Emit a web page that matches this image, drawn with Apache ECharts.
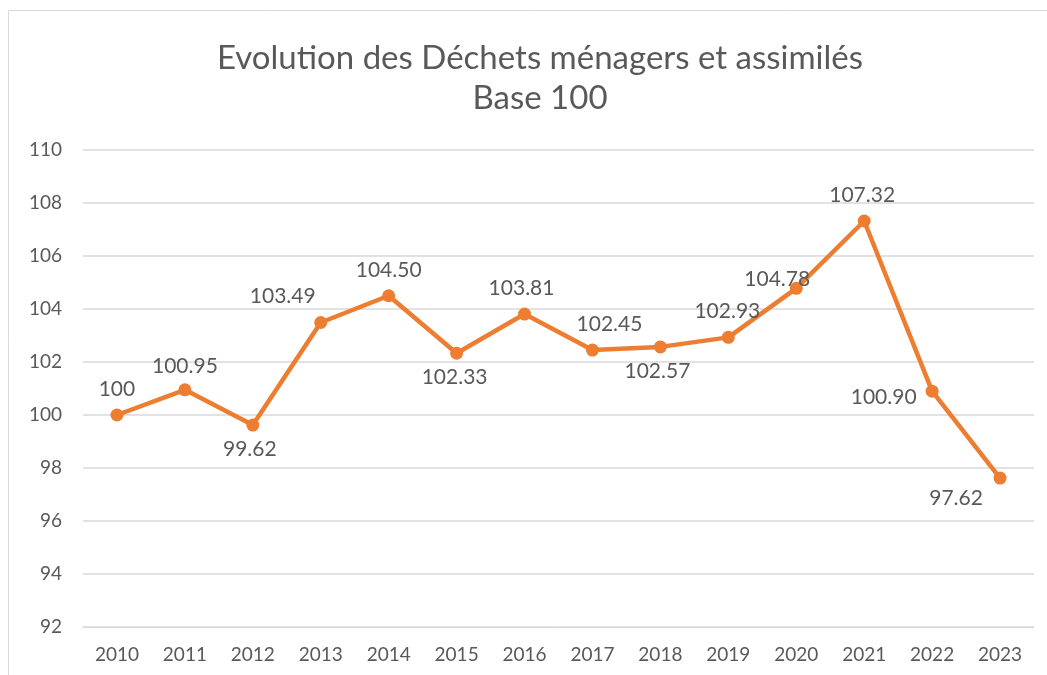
<!DOCTYPE html>
<html><head><meta charset="utf-8">
<script src="https://cdn.jsdelivr.net/npm/echarts@6/dist/echarts.min.js"></script>
<style>html,body{margin:0;padding:0;background:#fff}#c{width:1047px;height:675px}</style>
</head><body><div id="c"></div>
<script>
const years = ['2010','2011','2012','2013','2014','2015','2016','2017','2018','2019','2020','2021','2022','2023'];
const values = [100, 100.95, 99.62, 103.49, 104.50, 102.33, 103.81, 102.45, 102.57, 102.93, 104.78, 107.32, 100.90, 97.62];
const labelTexts = ['100','100.95','99.62','103.49','104.50','102.33','103.81','102.45','102.57','102.93','104.78','107.32','100.90','97.62'];
const labelPos = ['top','top','bottom','top','top','bottom','top','top','bottom','top','top','top','left','bottom'];
const labelOffsets = [[0,0],[0,2],[-3,-2],[-38,0],[0,0],[-2,-2],[-3,0],[17,0],[-3,-2],[-1,0],[-19,17],[-2,0],[0,6],[-44,-6]];

const chart = echarts.init(document.getElementById('c'));
const font = 'Lato, "Open Sans", sans-serif';
chart.setOption({
  animation: false,
  backgroundColor: '#fff',
  title: {
    text: 'Evolution des Déchets ménagers et assimilés\nBase 100',
    left: 535, textAlign: 'center', top: 33,
    textStyle: { fontFamily: font, fontWeight: 'normal', fontSize: 33, color: '#595959', lineHeight: 40, align: 'center' }
  },
  graphic: [{ type: 'rect', shape: { x: 8.5, y: 10.5, width: 1050, height: 700 }, style: { fill: 'none', stroke: '#d9d9d9', lineWidth: 1 } }],
  grid: { left: 83, right: 13, top: 150, bottom: 48 },
  xAxis: {
    type: 'category', data: years, boundaryGap: true,
    axisLine: { show: true, lineStyle: { color: '#d9d9d9' } },
    axisTick: { show: false },
    axisLabel: { fontFamily: font, fontSize: 19, color: '#595959', margin: 18 }
  },
  yAxis: {
    type: 'value', min: 92, max: 110, interval: 2,
    axisLine: { show: false }, axisTick: { show: false },
    splitLine: { lineStyle: { color: '#d9d9d9', width: 1.5 } },
    axisLabel: { fontFamily: font, fontSize: 19, color: '#595959', margin: 21 }
  },
  series: [{
    type: 'line',
    data: values.map((v, i) => ({
      value: v,
      label: { show: true, position: labelPos[i], offset: labelOffsets[i], formatter: labelTexts[i], distance: 9 }
    })),
    lineStyle: { color: '#ED7D31', width: 4.5 },
    itemStyle: { color: '#ED7D31' },
    symbol: 'circle', symbolSize: 13,
    label: { fontFamily: font, fontSize: 21, color: '#595959' }
  }]
});
</script></body></html>
